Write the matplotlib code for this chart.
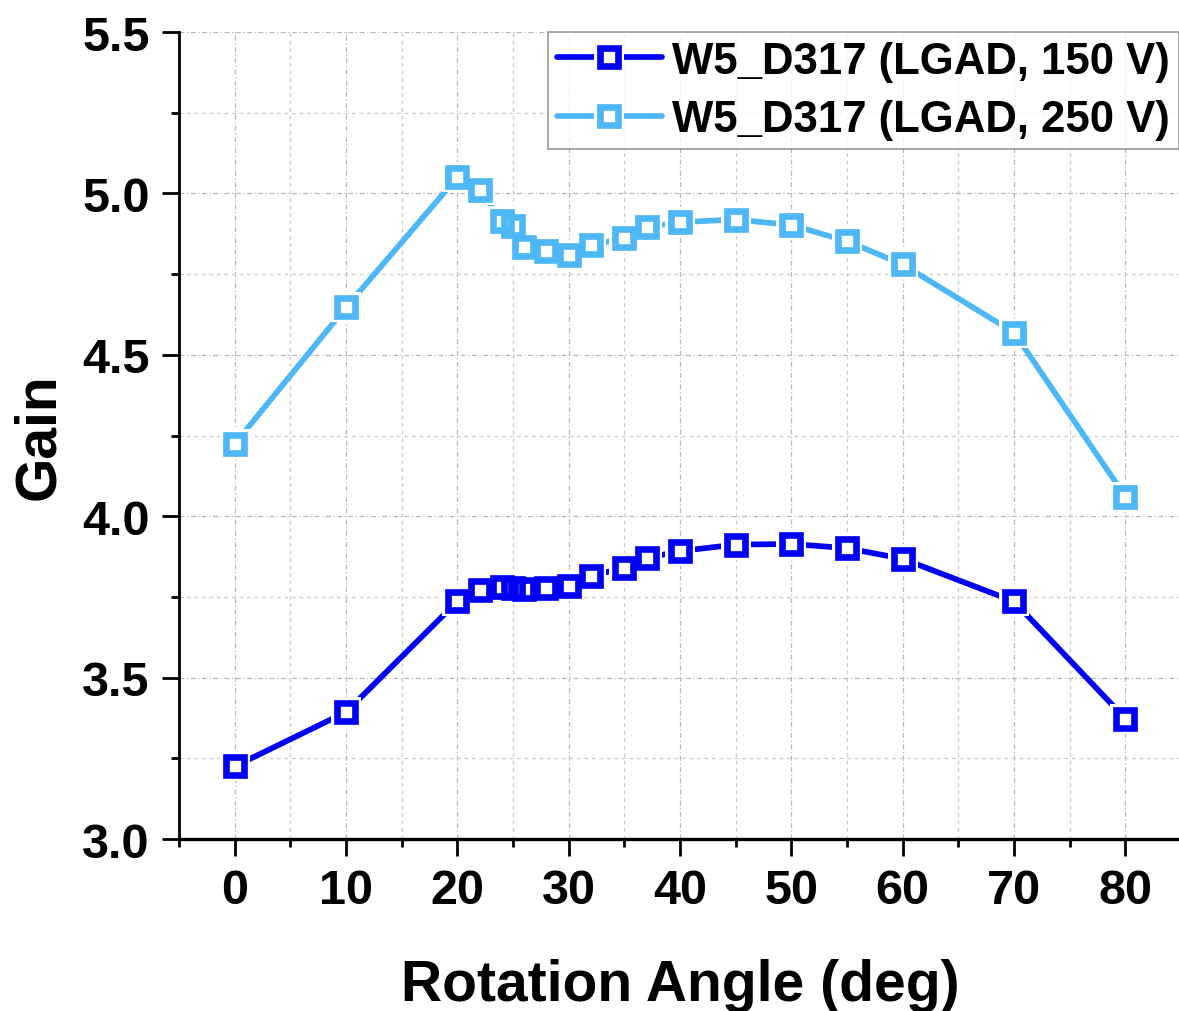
"""
Gain vs. rotasjonsvinkel for W5_D317 (LGAD) ved 150 V og 250 V.
"""

import matplotlib
matplotlib.use("Agg")
import matplotlib.pyplot as plt
from matplotlib.ticker import MultipleLocator

plt.rcParams["font.family"] = ["Liberation Sans", "DejaVu Sans"]
plt.rcParams["font.weight"] = "bold"

# Data lest av figuren
vinkel = [0, 10, 20, 22, 24, 25, 26, 28, 30, 32, 35, 37, 40, 45, 50, 55, 60, 70, 80]
gain_150v = [3.225, 3.393, 3.736, 3.771, 3.781, 3.778, 3.776, 3.778, 3.785, 3.814,
             3.841, 3.870, 3.892, 3.912, 3.914, 3.901, 3.868, 3.736, 3.373]
gain_250v = [4.224, 4.647, 5.050, 5.011, 4.915, 4.898, 4.833, 4.821, 4.810, 4.840,
             4.861, 4.895, 4.911, 4.919, 4.902, 4.852, 4.780, 4.569, 4.061]

serier = [
    ("W5_D317 (LGAD, 150 V)", gain_150v, "#0000f5"),
    ("W5_D317 (LGAD, 250 V)", gain_250v, "#4db8f5"),
]

LW  = 4.1   # linjebredde (pt)
MS  = 12.6  # markørside (pt)
MEW = 4.8   # markørkant (pt)
GAP = 2.4   # glipe mellom linje og markør (pt)

W, H = 1179, 1012
fig = plt.figure(figsize=(W / 100, H / 100), dpi=100)
ax = fig.add_axes([179 / W, 1 - 840 / H, (1181 - 179) / W, (840 - 33) / H])

halo_ms = MS + MEW + 2 * GAP
handles, labels = [], []
for navn, y, farge in serier:
    # linje, hvit firkant rundt markørene (glipe som i Origin), så markører
    l1, = ax.plot(vinkel, y, color=farge, lw=LW, zorder=3, solid_capstyle="round")
    l2, = ax.plot(vinkel, y, ls="none", marker="s", ms=halo_ms, mfc="white",
                  mec="none", mew=0, zorder=4)
    l3, = ax.plot(vinkel, y, ls="none", marker="s", ms=MS, mfc="none",
                  mec=farge, mew=MEW, zorder=5)
    handles.append((l1, l2, l3))
    labels.append(navn)

ax.set_xlim(-5, 85)
ax.set_ylim(3.0, 5.5)
ax.xaxis.set_major_locator(MultipleLocator(10))
ax.xaxis.set_minor_locator(MultipleLocator(5))
ax.yaxis.set_major_locator(MultipleLocator(0.5))
ax.yaxis.set_minor_locator(MultipleLocator(0.25))
ax.yaxis.set_major_formatter(plt.FuncFormatter(lambda v, p: f"{v:.1f}"))

ax.grid(which="major", color="#b8b8b8", lw=0.9, ls=(0, (4, 2, 1, 2)))
ax.grid(which="minor", color="#cccccc", lw=0.9, ls=(0, (3, 3)))
ax.set_axisbelow(True)

for s in ("top", "right"):
    ax.spines[s].set_visible(False)
ax.spines["left"].set_linewidth(2.0)
ax.spines["bottom"].set_linewidth(2.4)

ax.tick_params(which="major", direction="out", length=12, width=2.0,
               labelsize=35, pad=9)
ax.tick_params(which="minor", direction="out", length=6, width=2.0)
for lab in ax.get_xticklabels() + ax.get_yticklabels():
    lab.set_fontweight("bold")

ax.set_xlabel("Rotation Angle (deg)", fontsize=41, fontweight="bold", labelpad=32)
ax.set_ylabel("Gain", fontsize=41, fontweight="bold", labelpad=12)

leg = ax.legend(handles, labels, loc="upper right", bbox_to_anchor=(0.998, 1.0),
                prop={"size": 31.5, "weight": "bold"}, frameon=True, fancybox=False,
                edgecolor="#808080", handlelength=2.4, handletextpad=0.25,
                borderpad=0.2, labelspacing=0.4, borderaxespad=0.0, numpoints=1)
leg.get_frame().set_linewidth(1.2)
leg.set_zorder(10)

fig.savefig("out.png", dpi=100)
plt.close(fig)
